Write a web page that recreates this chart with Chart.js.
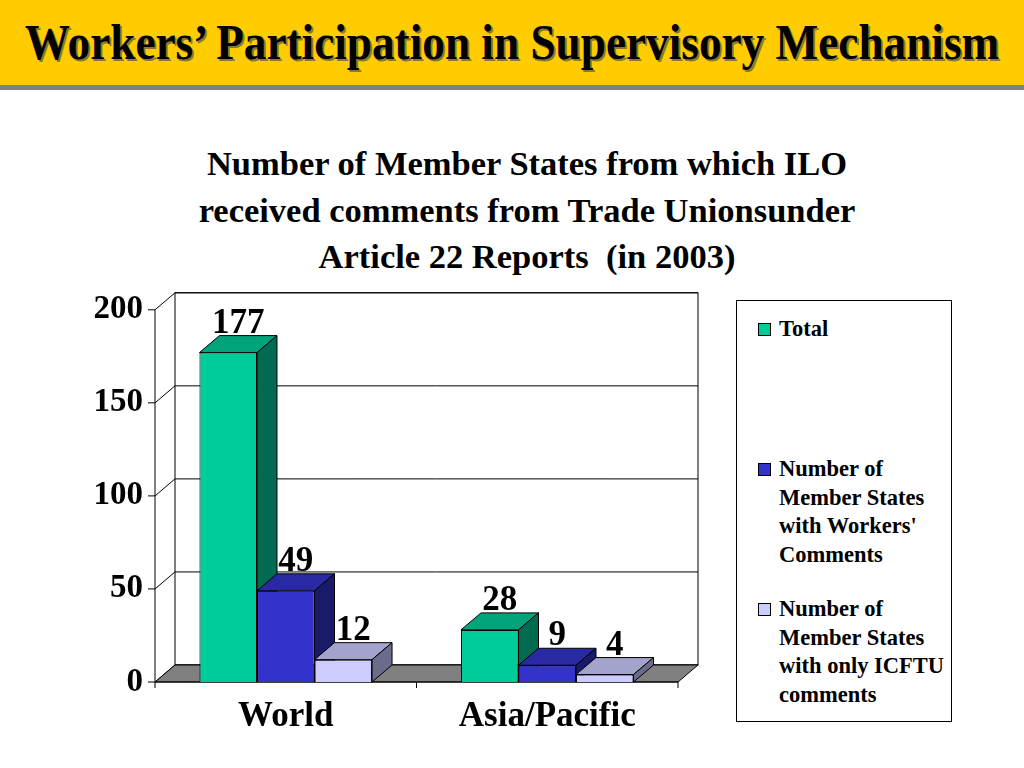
<!DOCTYPE html>
<html>
<head>
<meta charset="utf-8">
<script src="https://cdn.jsdelivr.net/npm/chart.js@4.4.0/dist/chart.umd.min.js"></script>
<style>
  body { margin: 0; width: 1024px; height: 768px; background: #fff; position: relative; overflow: hidden;
         font-family: "Liberation Serif", "Times New Roman", serif; }
  #head { position: absolute; left: 0; top: 0; width: 1024px; height: 85px; background: #FFCC00; border-bottom: 5px solid #808080; }
  #head h1 { margin: 0; position: absolute; left: 512px; top: 14px; font-size: 50px; font-weight: bold;
             line-height: 56px; transform: translateX(-50%) scaleX(0.905); text-shadow: 2px 2px 0 #8a7a30; white-space: nowrap; }
  #title { position: absolute; left: 177px; top: 140px; width: 700px; text-align: center; font-size: 34.5px; font-weight: bold; line-height: 46.5px; }
  #wrap { position: absolute; left: 0; top: 278px; width: 720px; height: 462px; }
  #legend { position: absolute; left: 736px; top: 300px; width: 214px; height: 420px; border: 1px solid #000; }
  .item { position: absolute; left: 0; font-size: 22.5px; font-weight: bold; line-height: 28.5px; }
  .item .sw { position: absolute; left: 21px; top: 8px; width: 11px; height: 11px; border: 1px solid #000; }
  .item .tx { position: absolute; left: 42px; white-space: nowrap; }
</style>
</head>
<body>
<div id="head"><h1>Workers’ Participation in Supervisory Mechanism</h1></div>
<div id="title">Number of Member States from which ILO<br>received comments from Trade Unionsunder<br>Article 22 Reports&nbsp; (in 2003)</div>
<div id="wrap"><canvas id="chart" width="720" height="462"></canvas></div>
<div id="legend"></div>
<script>
const categories = ['World', 'Asia/Pacific'];
const seriesNames = [
  ['Total'],
  ['Number of', 'Member States', 'with Workers\'', 'Comments'],
  ['Number of', 'Member States', 'with only ICFTU', 'comments']
];
const totalValues = [177, 28];
const workersValues = [49, 9];
const icftuValues = [12, 4];
const yTicks = [0, 50, 100, 150, 200];

// front, top, side colours for the 3D look
const frontColors = ['#00CC99', '#3333CC', '#CCCCFF'];
const topColors = ['#00A37A', '#2929A3', '#A3A3CC'];
const sideColors = ['#006B50', '#1A1A6B', '#6B6B8A'];

const DX = 20, DY = -17;

function poly(ctx, pts, fill) {
  ctx.beginPath();
  ctx.moveTo(pts[0][0], pts[0][1]);
  for (let i = 1; i < pts.length; i++) ctx.lineTo(pts[i][0], pts[i][1]);
  ctx.closePath();
  if (fill) { ctx.fillStyle = fill; ctx.fill(); }
  ctx.stroke();
}
function line(ctx, x1, y1, x2, y2) {
  ctx.beginPath(); ctx.moveTo(x1, y1); ctx.lineTo(x2, y2); ctx.stroke();
}

const cube = {
  id: 'cube',
  beforeDatasetsDraw(chart) {
    const ctx = chart.ctx, a = chart.chartArea, ys = chart.scales.y;
    ctx.save();
    ctx.lineWidth = 1;
    ctx.strokeStyle = '#000';
    // back wall and grid
    ctx.strokeRect(a.left + DX, a.top + DY, a.right - a.left, a.bottom - a.top);
    yTicks.forEach(v => {
      const py = ys.getPixelForValue(v);
      line(ctx, a.left, py, a.left + DX, py + DY);
      line(ctx, a.left + DX, py + DY, a.right + DX, py + DY);
      line(ctx, a.left - 7, py, a.left, py);
    });
    // floor
    poly(ctx, [[a.left, a.bottom], [a.right, a.bottom], [a.right + DX, a.bottom + DY], [a.left + DX, a.bottom + DY]], '#808080');
    // axes
    line(ctx, a.left, a.bottom, a.left, ys.getPixelForValue(200));
    line(ctx, a.left, a.bottom, a.right, a.bottom);
    const step = (a.right - a.left) / categories.length;
    for (let i = 0; i <= categories.length; i++) line(ctx, a.left + i * step, a.bottom, a.left + i * step, a.bottom + 6);
    // top and side faces, left to right
    for (let i = 0; i < categories.length; i++) {
      chart.data.datasets.forEach((ds, j) => {
        const el = chart.getDatasetMeta(j).data[i];
        const x0 = el.x - el.width / 2, x1 = el.x + el.width / 2;
        poly(ctx, [[x0, el.y], [x1, el.y], [x1 + DX, el.y + DY], [x0 + DX, el.y + DY]], topColors[j]);
        poly(ctx, [[x1, el.y], [x1 + DX, el.y + DY], [x1 + DX, el.base + DY], [x1, el.base]], sideColors[j]);
      });
    }
    ctx.restore();
  },
  afterDatasetsDraw(chart) {
    const ctx = chart.ctx;
    ctx.save();
    ctx.font = 'bold 35px "Liberation Serif"';
    ctx.fillStyle = '#000';
    ctx.textAlign = 'center';
    ctx.textBaseline = 'alphabetic';
    chart.data.datasets.forEach((ds, j) => {
      chart.getDatasetMeta(j).data.forEach((el, i) => {
        ctx.fillText(String(ds.data[i]), el.x + 10, el.y + DY - 3);
      });
    });
    ctx.restore();
  }
};

const values = [totalValues, workersValues, icftuValues];
new Chart(document.getElementById('chart').getContext('2d'), {
  type: 'bar',
  data: {
    labels: categories,
    datasets: values.map((v, j) => ({
      label: seriesNames[j].join(' '),
      data: v,
      backgroundColor: frontColors[j],
      borderColor: '#000',
      borderWidth: 1,
      categoryPercentage: 0.66,
      barPercentage: 1
    }))
  },
  options: {
    responsive: false,
    animation: false,
    layout: { padding: { top: 0, right: 42, left: 0, bottom: 0 } },
    plugins: { legend: { display: false }, tooltip: { enabled: false } },
    scales: {
      y: {
        min: 0, max: 200,
        afterFit: s => { s.width = 155; },
        grid: { display: false, drawTicks: false },
        border: { display: false },
        ticks: { stepSize: 50, padding: 12, color: '#000', font: { family: 'Liberation Serif', size: 33, weight: 'bold' } }
      },
      x: {
        afterFit: s => { s.height = 58; },
        grid: { display: false, drawTicks: false },
        border: { display: false },
        ticks: { padding: 14, color: '#000', font: { family: 'Liberation Serif', size: 35, weight: 'bold' } }
      }
    }
  },
  plugins: [cube]
});

// legend box
const legendTops = [14, 154, 294];
const legend = document.getElementById('legend');
seriesNames.forEach((lines, j) => {
  const d = document.createElement('div');
  d.className = 'item';
  d.style.top = legendTops[j] + 'px';
  d.innerHTML = '<div class="sw" style="background:' + frontColors[j] + '"></div><div class="tx">' + lines.join('<br>') + '</div>';
  legend.appendChild(d);
});
</script>
</body>
</html>
